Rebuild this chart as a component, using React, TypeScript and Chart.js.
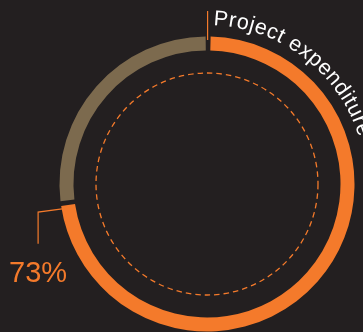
import React, { useEffect, useRef } from "react";
import { Chart, registerables } from "chart.js";

Chart.register(...registerables);

const categories = ["Project expenditure", "Remaining"];
const values = [73, 27];
const title = "Project expenditure";
const colors = ["#f47a2b", "#7c6a4e"];
const BG = "#231f20";

const overlay = {
  id: "overlay",
  afterDatasetsDraw(chart: any) {
    const ctx = chart.ctx;
    const arc = chart.getDatasetMeta(0).data[0];
    if (!arc) return;
    const { x: cx, y: cy, outerRadius, endAngle } = arc.getProps(["x", "y", "outerRadius", "endAngle"], true);
    const orange = colors[0];
    ctx.save();
    // dashed inner circle
    ctx.beginPath();
    ctx.setLineDash([5.5, 4]);
    ctx.lineWidth = 1.3;
    ctx.strokeStyle = orange;
    ctx.arc(cx, cy, outerRadius - 35, 0, Math.PI * 2);
    ctx.stroke();
    ctx.setLineDash([]);
    // top tick
    ctx.beginPath();
    ctx.lineWidth = 1.2;
    ctx.strokeStyle = orange;
    ctx.moveTo(cx + 0.6, cy - outerRadius + 2);
    ctx.lineTo(cx + 0.6, 11);
    ctx.stroke();
    // leader line from end of orange arc
    const a = endAngle - 0.045;
    const px = cx + Math.cos(a) * (outerRadius - 1);
    const py = cy + Math.sin(a) * (outerRadius - 1);
    ctx.beginPath();
    ctx.lineWidth = 1.2;
    ctx.moveTo(px, py);
    ctx.lineTo(px - 26, py + 3.5);
    ctx.lineTo(px - 26, py + 35);
    ctx.stroke();
    // percentage label
    ctx.fillStyle = orange;
    ctx.font = "29px 'Liberation Sans', Arial, sans-serif";
    ctx.textAlign = "left";
    ctx.textBaseline = "alphabetic";
    ctx.fillText(values[0] + "%", 9, 282);
    // curved title
    ctx.fillStyle = "#ffffff";
    ctx.font = "21.5px 'Liberation Sans', Arial, sans-serif";
    ctx.textAlign = "center";
    const r = outerRadius + 13;
    let ang = 0.037;
    for (const ch of title) {
      const w = ctx.measureText(ch).width + 0.6;
      const mid = ang + w / 2 / r;
      ctx.save();
      ctx.translate(cx, cy);
      ctx.rotate(mid);
      ctx.fillText(ch, 0, -r);
      ctx.restore();
      ang += w / r;
    }
    ctx.restore();
  },
};

export default function App() {
  const ref = useRef<HTMLCanvasElement>(null);
  useEffect(() => {
    if (!ref.current) return;
    const chart = new Chart(ref.current, {
      type: "doughnut",
      data: {
        labels: categories,
        datasets: [
          {
            data: values,
            backgroundColor: colors,
            borderWidth: 0,
            spacing: 3,
          },
        ],
      },
      options: {
        animation: false,
        responsive: false,
        maintainAspectRatio: false,
        cutout: 132,
        layout: { padding: { left: 59.5, top: 36.5, right: 8.5, bottom: 0.5 } },
        plugins: { legend: { display: false }, tooltip: { enabled: false } },
      },
      plugins: [overlay],
    });
    return () => chart.destroy();
  }, []);
  return (
    <div style={{ position: "fixed", left: 0, top: 0, width: 363, height: 332, background: BG }}>
      <canvas ref={ref} width={363} height={332} style={{ display: "block", width: 363, height: 332 }} />
    </div>
  );
}
